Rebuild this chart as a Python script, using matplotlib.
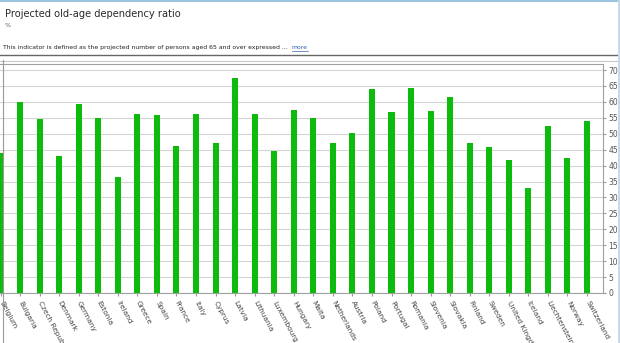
import matplotlib
matplotlib.use('Agg')
from matplotlib import pyplot as plt
from matplotlib.lines import Line2D

countries = ['Belgium', 'Bulgaria', 'Czech Republic', 'Denmark', 'Germany', 'Estonia',
             'Ireland', 'Greece', 'Spain', 'France', 'Italy', 'Cyprus', 'Latvia',
             'Lithuania', 'Luxembourg', 'Hungary', 'Malta', 'Netherlands', 'Austria',
             'Poland', 'Portugal', 'Romania', 'Slovenia', 'Slovakia', 'Finland',
             'Sweden', 'United Kingdom', 'Iceland', 'Liechtenstein', 'Norway',
             'Switzerland']
ratio = [43.8, 59.8, 54.6, 43.1, 59.4, 55.0, 36.3, 56.1, 55.8, 46.1, 56.1, 47.1, 67.5,
         56.1, 44.6, 57.4, 55.0, 47.0, 50.2, 64.1, 56.7, 64.3, 57.2, 61.4, 47.0,
         45.7, 41.7, 33.0, 52.4, 42.5, 53.9]
yticks = list(range(0, 75, 5))

W, H = 620, 343
fig = plt.figure(figsize=(W / 100, H / 100), dpi=100)
fig.patch.set_facecolor('white')


def px(x, y):
    return x / W, 1 - y / H


# header
fig.text(*px(5, 17), 'Projected old-age dependency ratio', fontsize=7.1,
         color='#2a2a2a', va='baseline')
fig.text(*px(5, 27), '%', fontsize=4.5, color='#555555', va='baseline')
desc = fig.text(*px(3, 49), 'This indicator is defined as the projected number of persons '
                'aged 65 and over expressed ...', fontsize=4.45, color='#222222',
                va='baseline')
fig.canvas.draw()
x_end = desc.get_window_extent().x1 + 4
more = fig.text(x_end / W, 1 - 49 / H, 'more', fontsize=4.45, color='#3366aa',
                va='baseline')
fig.canvas.draw()
mb = more.get_window_extent()
fig.add_artist(Line2D([mb.x0 / W, mb.x1 / W], [1 - 50.5 / H] * 2, color='#3366aa', lw=0.5))

# frame lines
fig.add_artist(Line2D([0, 1], [1 - 0.5 / H] * 2, color='#9cc4dc', lw=1.5))
fig.add_artist(Line2D([0, 617 / W], [1 - 54.5 / H] * 2, color='#666666', lw=1))
fig.add_artist(Line2D([0, 617 / W], [1 - 60.5 / H] * 2, color='#c8c8c8', lw=0.8))
fig.add_artist(Line2D([2.5 / W] * 2, [1 - 60 / H, 0], color='#999999', lw=0.8))
fig.add_artist(Line2D([618.5 / W] * 2, [0, 1], color='#c4d8ea', lw=2))

top, base, right = 64, 293, 603
ax = fig.add_axes([0, 1 - base / H, right / W, (base - top) / H])
ppu = (293 - 70) / 70
ax.set_ylim(0, (base - top) / ppu)
step = 19.55
ax.set_xlim(-0.5 / step, (right - 0.5) / step)

ax.bar(range(len(countries)), ratio, width=0.31, color='#0cbb0c', zorder=3)

ax.yaxis.tick_right()
ax.set_yticks(yticks)
ax.tick_params(axis='y', length=2, pad=2, labelsize=5.5, labelcolor='#555555',
               color='#999999')
ax.grid(axis='y', color='#d4d4d4', lw=0.8, zorder=0)

ax.set_xticks(range(len(countries)))
ax.set_xticklabels(countries, rotation=-62, ha='left', va='center',
                   rotation_mode='anchor', fontsize=5.3, color='#444444')
ax.tick_params(axis='x', length=2, pad=4, color='#999999')

ax.spines['left'].set_visible(False)
for side in ['top', 'right', 'bottom']:
    ax.spines[side].set_color('#a0a0a0')
    ax.spines[side].set_linewidth(0.8)

fig.savefig('out.png', dpi=100)
